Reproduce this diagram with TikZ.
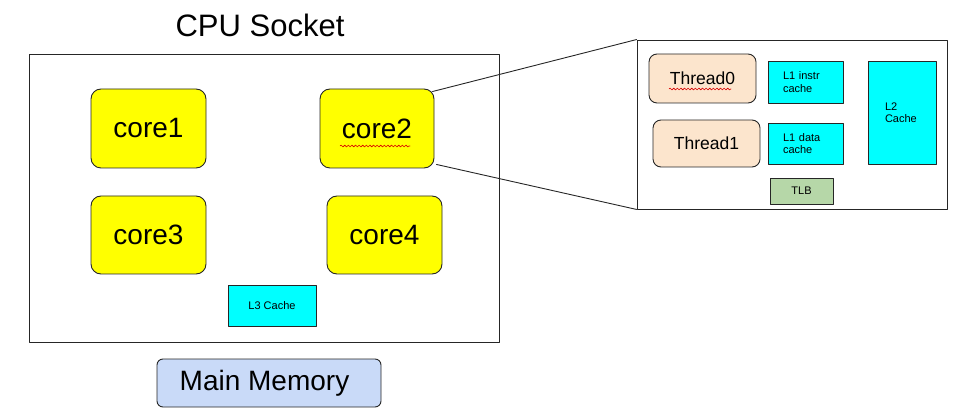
\documentclass[tikz,border=0pt]{standalone}
\usepackage{fontspec}
\setmainfont{Liberation Sans}
\usetikzlibrary{calc}
\usetikzlibrary{decorations.pathmorphing}
\definecolor{coreyellow}{HTML}{FFFF00}
\definecolor{cachecyan}{HTML}{00FFFF}
\definecolor{threadpeach}{HTML}{FCE5CD}
\definecolor{tlbgreen}{HTML}{B6D7A8}
\definecolor{memblue}{HTML}{C9DAF8}
\newcommand{\spellmark}[2]{%
	\draw[red!85!black, line width=0.6pt, decorate,
	decoration={snake, amplitude=0.9pt, segment length=3.6pt}] (#1) -- (#2);}

\begin{document}
\begin{tikzpicture}[x=1pt, y=-1pt, line cap=round, line join=round, line width=0.9pt,
	box/.style={draw=black!85, inner sep=0pt, align=center},
	core/.style={box, fill=coreyellow, rounded corners=10pt, font=\fontsize{28}{28}\selectfont},
	thread/.style={box, fill=threadpeach, rounded corners=8pt, minimum width=107pt, font=\fontsize{17.5}{17.5}\selectfont},
	cache/.style={box, fill=cachecyan, font=\fontsize{11}{12.5}\selectfont},
	small/.style={font=\fontsize{11}{12.5}\selectfont}]

\useasboundingbox (0,0) rectangle (960,419);

% ==== Left: the socket ====
\begin{scope}
	\node (title) at (260,25) {\fontsize{31}{31}\selectfont CPU Socket};
	\node[box, minimum width=470pt, minimum height=288pt] (socket) at (264,198) {};
	
	% four cores
	\node[core, minimum width=115pt, minimum height=79pt] (core1) at (148.5,128.5) {core1};
	\node[core, minimum width=114pt, minimum height=79pt] (core2) at (377,128.5) {core2};
	\node[core, minimum width=115pt, minimum height=78pt] (core3) at (148.5,235) {core3};
	\node[core, minimum width=115pt, minimum height=78pt] (core4) at (384.5,235) {core4};
	\spellmark{340,146}{410,146}
	
	% shared cache
	\node[cache, minimum width=88pt, minimum height=41pt] (l3) at (272,305.5) {L3 Cache};
	
	\node[box, fill=memblue, rounded corners=6pt, minimum width=224pt, minimum height=48pt] (mem) at (269,383) {};
	\node[font=\fontsize{28}{28}\selectfont] (memtext) at (264.5,383) {Main Memory};
\end{scope}

% ==== Right: inside core2 ====
\begin{scope}
	\node[box, minimum width=310pt, minimum height=169pt] (detail) at (792,124.5) {};
	
	\node[thread, minimum height=49pt] (thread0) at (702.5,78.5) {Thread0};
	\node[thread, minimum height=47pt] (thread1) at (706.5,143.5) {Thread1};
	\spellmark{669,89}{731,89}
	
	% private caches
	\node[cache, align=left, text width=45pt, inner xsep=15pt, minimum height=42pt] (l1i) at (805.5,82) {L1 instr\\cache};
	\node[cache, align=left, text width=45pt, inner xsep=15pt, minimum height=41pt] (l1d) at (805.5,143.5) {L1 data\\cache};
	\node[cache, align=left, text width=34pt, inner xsep=17pt, minimum height=103pt] (l2) at (902,112.5) {L2\\Cache};
	\node[box, small, fill=tlbgreen, minimum width=63pt, minimum height=26pt] (tlb) at (801.5,191) {TLB};
\end{scope}

% zoom lines
\draw[black!85] ($(core2.north east)+(-2,3)$) -- (detail.north west);
\draw[black!85] ($(core2.south east)+(2,-4)$) -- (detail.south west);

\end{tikzpicture}
\end{document}
